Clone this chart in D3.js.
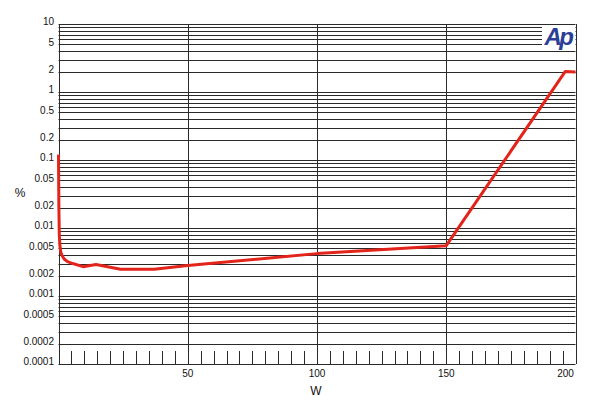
<!DOCTYPE html>
<html>
<head>
<meta charset="utf-8">
<script src="https://cdn.jsdelivr.net/npm/d3@7"></script>
<style>
  html, body { margin: 0; padding: 0; background: #fff; }
  svg { display: block; font-family: "Liberation Sans", Arial, sans-serif; }
</style>
</head>
<body>
<svg id="chart" width="600" height="405"></svg>
<script>
// ---- data ----
const powerW = [0, 0.15, 0.3, 0.6, 0.9, 1.4, 2.2, 3.5, 5.5, 9.5, 14.5, 24, 37, 50, 100, 150, 196, 200];
const thdPct = [0.12, 0.02, 0.008, 0.0052, 0.0044, 0.0039, 0.0035, 0.0032, 0.003, 0.0027, 0.0029, 0.00248, 0.00248, 0.0028, 0.0042, 0.0055, 2.0, 1.97];
const yTickValues = [10, 5, 2, 1, 0.5, 0.2, 0.1, 0.05, 0.02, 0.01, 0.005, 0.002, 0.001, 0.0005, 0.0002, 0.0001];
const yTickLabels = ["10", "5", "2", "1", "0.5", "0.2", "0.1", "0.05", "0.02", "0.01", "0.005", "0.002", "0.001", "0.0005", "0.0002", "0.0001"];
const xMajorTicks = [50, 100, 150, 200];
const xMinorStep = 5;

// ---- layout ----
const svg = d3.select("#chart");
const plotLeft = 58.5, plotRight = 575.5, plotTop = 24, plotBottom = 364;

const x = d3.scaleLinear().domain([0, 200]).range([plotLeft, plotRight]);
const y = d3.scaleLog().domain([0.0001, 10]).range([plotBottom, plotTop]);

// horizontal log grid lines (1..9 per decade)
const gridVals = [];
for (let e = -4; e < 1; e++) {
  for (let m = 1; m <= 9; m++) {
    const v = m * Math.pow(10, e);
    if (v > 0.0001 * 1.0001) gridVals.push(v);
  }
}
gridVals.push(10);

const g = svg.append("g");
g.selectAll("line.h").data(gridVals).enter().append("line")
  .attr("class", "h")
  .attr("x1", plotLeft).attr("x2", plotRight)
  .attr("y1", d => Math.round(y(d)) + 0.5).attr("y2", d => Math.round(y(d)) + 0.5)
  .attr("stroke", "#2a2a2a").attr("stroke-width", 1);

// vertical grid lines at major ticks
g.selectAll("line.v").data([0, 50, 100, 150, 200]).enter().append("line")
  .attr("class", "v")
  .attr("x1", d => Math.round(x(d)) + 0.5).attr("x2", d => Math.round(x(d)) + 0.5)
  .attr("y1", plotTop).attr("y2", plotBottom)
  .attr("stroke", "#2a2a2a").attr("stroke-width", 1);

// bottom axis line
g.append("line")
  .attr("x1", plotLeft).attr("x2", plotRight)
  .attr("y1", Math.round(plotBottom) + 0.5).attr("y2", Math.round(plotBottom) + 0.5)
  .attr("stroke", "#2a2a2a").attr("stroke-width", 1.2);

// minor ticks pointing up from bottom
const minorVals = d3.range(5, 200, xMinorStep).filter(v => v % 50 !== 0);
g.selectAll("line.mt").data(minorVals).enter().append("line")
  .attr("class", "mt")
  .attr("x1", d => Math.round(x(d)) + 0.5).attr("x2", d => Math.round(x(d)) + 0.5)
  .attr("y1", plotBottom - 13).attr("y2", plotBottom)
  .attr("stroke", "#2a2a2a").attr("stroke-width", 1);

// y tick labels
svg.append("g").selectAll("text").data(yTickValues).enter().append("text")
  .attr("x", 54)
  .attr("y", d => y(d) - 2.3)
  .attr("dominant-baseline", "central")
  .attr("text-anchor", "end")
  .attr("font-size", 10)
  .attr("fill", "#111")
  .text((d, i) => yTickLabels[i]);

// x tick labels
svg.append("g").selectAll("text").data(xMajorTicks).enter().append("text")
  .attr("x", d => d === 200 ? x(d) - 10 : x(d))
  .attr("y", 373)
  .attr("dominant-baseline", "central")
  .attr("text-anchor", "middle")
  .attr("font-size", 10)
  .attr("fill", "#111")
  .text(d => d);

// axis titles
svg.append("text").attr("x", 20).attr("y", 193)
  .attr("dominant-baseline", "central").attr("text-anchor", "middle")
  .attr("font-size", 12).attr("fill", "#111").text("%");
svg.append("text").attr("x", 316).attr("y", 391)
  .attr("dominant-baseline", "central").attr("text-anchor", "middle")
  .attr("font-size", 12).attr("fill", "#111").text("W");

// Ap logo
svg.append("rect").attr("x", 542).attr("y", 25).attr("width", 33).attr("height", 21).attr("fill", "#fff");
svg.append("text").attr("x", 558).attr("y", 45)
  .attr("text-anchor", "middle")
  .attr("font-size", 24).attr("font-weight", "bold").attr("font-style", "italic")
  .attr("letter-spacing", -2.5)
  .attr("fill", "#2b3f96").text("Ap");

// data line
const pts = powerW.map((w, i) => [w, thdPct[i]]);
const line = d3.line().x(d => x(d[0])).y(d => y(d[1])).curve(d3.curveLinear);
svg.append("path").datum(pts)
  .attr("d", line)
  .attr("fill", "none")
  .attr("stroke", "#e3241b")
  .attr("stroke-width", 3)
  .attr("stroke-linejoin", "round")
  .attr("stroke-linecap", "butt");
</script>
</body>
</html>
